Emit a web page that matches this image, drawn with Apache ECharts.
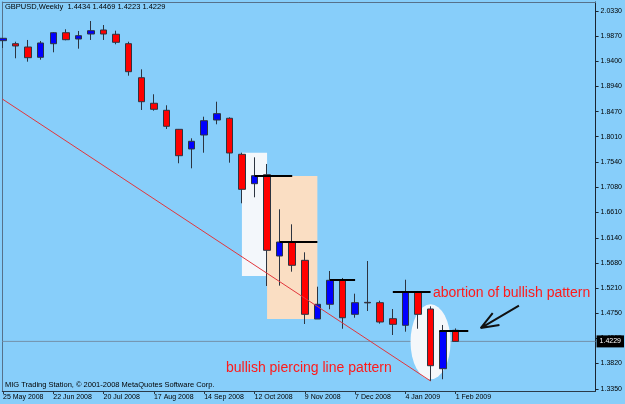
<!DOCTYPE html>
<html><head><meta charset="utf-8">
<script src="https://cdn.jsdelivr.net/npm/echarts@6/dist/echarts.min.js"></script>
<style>html,body{margin:0;padding:0;background:#87CEFA;overflow:hidden}#c{width:625px;height:404px}</style>
</head><body><div id="c"></div>
<script>
// ---- data (weekly GBPUSD, bar index 0 = week of 25 May 2008) ----
const opens  = [1.9782,1.9726,1.9665,1.9475,1.9726,1.9929,1.9813,1.9905,1.9979,1.9900,1.9726,1.9098,1.8626,1.8496,1.8145,1.7782,1.8040,1.8317,1.8349,1.7684,1.7141,1.7307,1.5806,1.6064,1.5726,1.4642,1.4914,1.5357,1.4729,1.4950,1.4944,1.4648,1.4526,1.5141,1.4827,1.3725,1.4434];
const closes = [1.9826,1.9684,1.9468,1.9739,1.9929,1.9800,1.9874,1.9966,1.9905,1.9752,1.9209,1.8655,1.8515,1.8201,1.7658,1.7924,1.8304,1.8434,1.7708,1.7037,1.7289,1.5911,1.6064,1.5634,1.4729,1.4914,1.5357,1.4666,1.4944,1.4940,1.4587,1.4544,1.5147,1.4729,1.3780,1.4421,1.4229];
const lows   = [1.9647,1.9457,1.9394,1.9431,1.9567,1.9789,1.9634,1.9795,1.9795,1.9715,1.9135,1.8502,1.8489,1.8151,1.7518,1.7425,1.7713,1.8238,1.7529,1.6779,1.6890,1.5252,1.5258,1.5516,1.4550,1.4642,1.4822,1.4463,1.4666,1.4790,1.4556,1.4347,1.4408,1.4463,1.3498,1.3530,1.4223];
const highs  = [1.9830,1.9763,1.9795,1.9776,1.9942,1.9992,1.9961,2.0145,2.0071,1.9966,1.9763,1.9253,1.8792,1.8589,1.8151,1.7979,1.8378,1.8655,1.8367,1.7713,1.7628,1.7505,1.6668,1.6391,1.5874,1.5239,1.5529,1.5400,1.5110,1.5713,1.4980,1.4827,1.5368,1.5160,1.4877,1.4532,1.4469];
const dateLabels = ["25 May 2008","22 Jun 2008","20 Jul 2008","17 Aug 2008","14 Sep 2008","12 Oct 2008","9 Nov 2008","7 Dec 2008","4 Jan 2009","1 Feb 2009"];
const dateLabelBars = [0,4,8,12,16,20,24,28,32,36];
const priceTicks = [1.3350,1.3820,1.4285,1.4750,1.5210,1.5680,1.6140,1.6610,1.7080,1.7540,1.8010,1.8470,1.8940,1.9400,1.9870,2.0330];
const lastPrice = 1.4229;
// annotations (bar index, price)
const whiteBox = [[19,1.7713],[21,1.5437]];
const peachBox = [[21,1.7283],[25,1.4642]];
const levelLines = [[20,23,1.7296],[22,25,1.6077],[26,28,1.5363],[31,34,1.5154],[34.7,37,1.4421]];
const trendLine = [[-0.0556,1.8705],[34,1.3498]];
const ellipseCenter = [34,1.4221];
const arrowPath = [[41.03,1.4888],[37.99,1.4476],[38.94,1.4753],[37.99,1.4476],[39.48,1.4532]];
const X_MIN = -0.0556, X_MAX = 47.125, Y_MIN = 1.3313, Y_MAX = 2.0496;

const candles = opens.map((o,i)=>[i,o,closes[i],lows[i],highs[i]]);
const FONT = '"Liberation Sans", Arial, sans-serif';
const chart = echarts.init(document.getElementById('c'));
chart.setOption({
  backgroundColor:'#87CEFA',
  animation:false,
  grid:{left:2,right:29,top:2,bottom:13},
  xAxis:[
    {type:'value',min:X_MIN,max:X_MAX,position:'bottom',
     axisLine:{show:true,onZero:false,lineStyle:{color:'#2a3a48',width:1}},
     axisTick:{show:true,customValues:dateLabelBars,length:3,lineStyle:{color:'#2a3a48'}},
     axisLabel:{customValues:dateLabelBars,formatter:v=>dateLabels[dateLabelBars.indexOf(v)],align:'left',fontSize:7,fontFamily:FONT,color:'#000',margin:3},
     splitLine:{show:false}},
    {type:'value',min:X_MIN,max:X_MAX,position:'top',
     axisLine:{show:true,onZero:false,lineStyle:{color:'#56718a',width:1}},
     axisTick:{show:false},axisLabel:{show:false},splitLine:{show:false}}
  ],
  yAxis:[
    {type:'value',min:Y_MIN,max:Y_MAX,position:'right',
     axisLine:{show:true,onZero:false,lineStyle:{color:'#1a2430',width:1}},
     axisTick:{show:true,customValues:priceTicks,length:3,lineStyle:{color:'#1a2430'}},
     axisLabel:{customValues:priceTicks,formatter:v=>v.toFixed(4),fontSize:7,fontFamily:FONT,color:'#000',margin:5},
     splitLine:{show:false}},
    {type:'value',min:Y_MIN,max:Y_MAX,position:'left',
     axisLine:{show:true,onZero:false,lineStyle:{color:'#56718a',width:1}},
     axisTick:{show:false},axisLabel:{show:false},splitLine:{show:false}}
  ],
  series:[
    {type:'line',z:1,silent:true,symbol:'none',data:[[X_MIN,lastPrice],[X_MAX,lastPrice]],
     lineStyle:{color:'#7391aa',width:1},
     endLabel:{show:true,formatter:lastPrice.toFixed(4),distance:1,backgroundColor:'#000',color:'#fff',fontSize:7,fontFamily:FONT,padding:[3,3,2,3]}},
    {type:'scatter',z:2,silent:true,symbol:'circle',symbolSize:[40,75],data:[ellipseCenter],
     itemStyle:{color:'#F4F7FA',opacity:1}},
    {type:'candlestick',z:2,silent:true,barWidth:7,data:candles,
     itemStyle:{color:'#0000FF',color0:'#FF0000',borderColor:'#2c3440',borderColor0:'#2c3440',borderWidth:1},
     markArea:{silent:true,data:[
       [{coord:whiteBox[0],itemStyle:{color:'#F3F7FB'}},{coord:whiteBox[1]}],
       [{coord:peachBox[0],itemStyle:{color:'#FADEC3'}},{coord:peachBox[1]}]
     ]},
     markLine:{silent:true,symbol:['none','none'],label:{show:false},
       lineStyle:{color:'#000',width:2,type:'solid'},
       data:levelLines.map(l=>[{coord:[l[0],l[2]]},{coord:[l[1],l[2]]}])}
    },
    {type:'line',z:3,silent:true,symbol:'none',data:trendLine,lineStyle:{color:'#E2363C',width:1}},
    {type:'line',z:3,silent:true,symbol:'none',data:arrowPath,lineStyle:{color:'#111',width:2}}
  ],
  graphic:[
    {type:'text',left:5,top:3,style:{text:'GBPUSD,Weekly  1.4434 1.4469 1.4223 1.4229',fill:'#000',font:'7.5px '+FONT}},
    {type:'text',left:5,top:381,style:{text:'MIG Trading Station, \u00a9 2001-2008 MetaQuotes Software Corp.',fill:'#000',font:'7.5px '+FONT}},
    {type:'text',left:433,top:286,style:{text:'abortion of bullish pattern',fill:'#FF1A1A',font:'14px '+FONT}},
    {type:'text',left:226,top:361,style:{text:'bullish piercing line pattern',fill:'#FF1A1A',font:'14px '+FONT}}
  ]
});
</script></body></html>
